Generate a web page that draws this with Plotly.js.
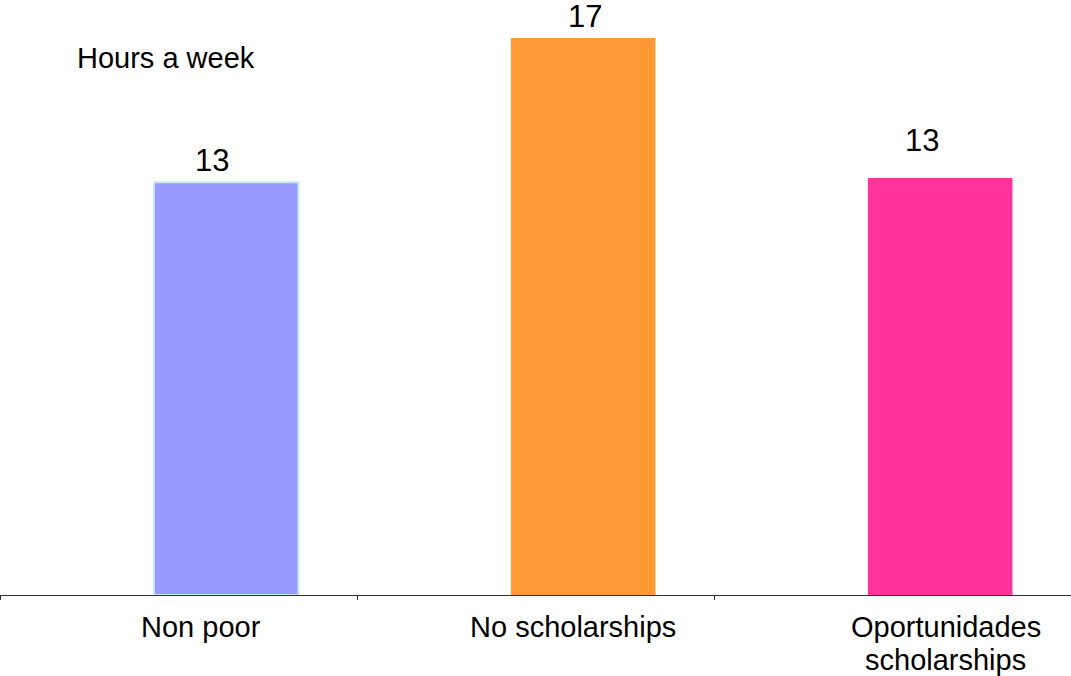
<!DOCTYPE html>
<html>
<head>
<meta charset="utf-8">
<script src="https://cdn.plot.ly/plotly-3.0.1.min.js"></script>
<style>html,body{margin:0;padding:0;background:#fff;}#chart{width:1071px;height:676px;}</style>
</head>
<body>
<div id="chart"></div>
<script>
var categories = ["Non poor", "No scholarships", "Oportunidades<br>scholarships"];
var hours = [12.6, 17.0, 12.73];
var valueLabels = ["13", "17", "13"];
var barColors = ["#9999ff", "#ff9933", "#ff3399"];
var unitLabel = "Hours a week";

var labelShiftX = [33, 49, 29];
var labelShiftY = [0, 0, 16];
var tickShiftX = [22, 37, 53];

var font = "Liberation Sans, Arial, sans-serif";

var trace = {
  type: "bar",
  x: categories,
  y: hours,
  width: 0.405,
  offset: -0.069,
  marker: {
    color: barColors,
    line: { color: ["#c4ecec", "rgba(0,0,0,0)", "rgba(0,0,0,0)"], width: [2, 0, 0] }
  },
  hoverinfo: "skip"
};

var annotations = categories.map(function (c, i) {
  return {
    x: c, y: hours[i], xref: "x", yref: "y",
    text: valueLabels[i], showarrow: false,
    yanchor: "bottom", xanchor: "center",
    xshift: labelShiftX[i], yshift: 2 + labelShiftY[i],
    font: { family: font, size: 31, color: "#000" }
  };
});
categories.forEach(function (c, i) {
  c.split("<br>").forEach(function (line, j) {
    annotations.push({
      x: c, y: 0, xref: "x", yref: "y",
      text: line, showarrow: false,
      xanchor: "center", yanchor: "middle",
      xshift: tickShiftX[i], yshift: -32 - 33 * j,
      font: { family: font, size: 29, color: "#000" }
    });
  });
});
annotations.push({
  xref: "paper", yref: "paper", x: 75 / 1071, y: 1 - 58 / 595,
  xanchor: "left", yanchor: "middle", showarrow: false,
  text: unitLabel, font: { family: font, size: 29, color: "#000" }
});

var layout = {
  width: 1071, height: 676,
  margin: { l: 0, r: 0, t: 0, b: 81 },
  paper_bgcolor: "#fff", plot_bgcolor: "#fff",
  showlegend: false,
  xaxis: {
    showline: true, linecolor: "#333", linewidth: 1,
    ticks: "outside", tickson: "boundaries", ticklen: 4, tickcolor: "#333",
    showticklabels: false,
    showgrid: false, zeroline: false, fixedrange: true
  },
  yaxis: {
    range: [0, 18.16], visible: false, showgrid: false, zeroline: false, fixedrange: true
  },
  annotations: annotations
};

Plotly.newPlot("chart", [trace], layout, { displayModeBar: false, staticPlot: true });
</script>
</body>
</html>
